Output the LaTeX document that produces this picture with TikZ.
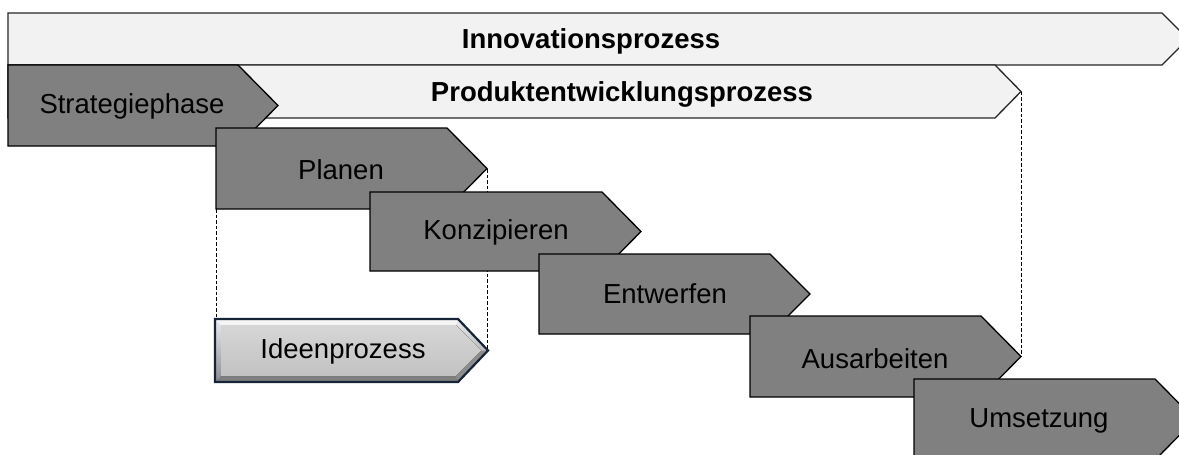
\documentclass[tikz,border=0pt]{standalone}
\usepackage{fontspec}
\setmainfont{Liberation Sans}
\begin{document}
\begin{tikzpicture}[x=1pt,y=-1pt,
  every node/.style={font=\fontsize{27.5}{30}\selectfont, inner sep=0pt},
  phase/.style={draw=black, line width=1.3pt, fill=phasegrey, line join=miter},
  band/.style={draw=black!85, line width=1.3pt, fill=bandgrey, line join=miter},
  guide/.style={draw=black, line width=1pt, dash pattern=on 3.5pt off 2pt},
  title/.style={font=\fontsize{27.5}{30}\selectfont\bfseries}]
\definecolor{phasegrey}{RGB}{128,128,128}
\definecolor{bandgrey}{RGB}{242,242,242}
\definecolor{ideaedge}{RGB}{22,36,56}

% chevron: #1 name, #2 left, #3 top, #4 body right, #5 bottom, #6 tip x, #7 style
\newcommand\chevron[7]{%
  \draw[#7] (#2,#3) -- (#4,#3) -- (#6,{(#3+#5)/2}) -- (#4,#5) -- (#2,#5) -- cycle;
  \coordinate (#1-tl) at (#2,#3);
  \coordinate (#1-bl) at (#2,#5);
  \coordinate (#1-tip) at (#6,{(#3+#5)/2});
}

\useasboundingbox (0,0) rectangle (1179,455);
\clip (0,0) rectangle (1179,455);
\fill[white] (0,0) rectangle (1179,455);

% overall process bands
\chevron{inno}{8}{13}{1162}{65}{1188}{band}
\node[title] (innotext) at (591,41) {Innovationsprozess};
\chevron{pep}{8}{65}{995}{118}{1021}{band}
\node[title] (peptext) at (622,94) {Produktentwicklungsprozess};

\chevron{strat}{8}{65}{238}{146}{278}{phase}
\node (strattext) at (132,106) {Strategiephase};

% guide lines
\coordinate (ideen-tl) at (216,319);
\coordinate (ideen-tip) at (487,350.5);
\coordinate (aus-tip0) at (1021,357);
\coordinate (pl-bl0) at (216,209);
\coordinate (pl-tip0) at (487,169);
\draw[guide] (pl-bl0) -- (ideen-tl);
\draw[guide] (pl-tip0) -- (ideen-tip);
\draw[guide] (pep-tip) -- (aus-tip0);

% development phases
\chevron{plan}{216}{128}{447}{209}{487}{phase}
\node (plantext) at (341,170) {Planen};
\chevron{konz}{370}{192}{602}{271}{641}{phase}
\node (konztext) at (496,232) {Konzipieren};
\chevron{entw}{539}{254}{770}{334}{810}{phase}
\node (entwtext) at (665,294) {Entwerfen};
\chevron{aus}{750}{316}{981}{397}{1021}{phase}
\node (austext) at (875,359) {Ausarbeiten};
\chevron{ums}{914}{379}{1155}{460}{1195}{phase}
\node (umstext) at (1039,421) {Umsetzung};

% bevelled idea process arrow
\fill[top color=white!92!black, bottom color=black!45] (215,319) -- (458,319) -- (488,350.5) -- (458,382) -- (215,382) -- cycle;
\fill[black!50] (221,376) -- (456,376) -- (458,382) -- (215,382) -- cycle;
\fill[black!45] (456,376) -- (481,350.5) -- (488,350.5) -- (458,382) -- cycle;
\fill[white!96!black] (215,319) -- (458,319) -- (456,325) -- (221,325) -- cycle;
\fill[top color=white!84!black, bottom color=white!76!black] (221,325) -- (456,325) -- (481,350.5) -- (456,376) -- (221,376) -- cycle;
\draw[draw=ideaedge, line width=2.2pt, line join=miter] (215,319) -- (458,319) -- (488,350.5) -- (458,382) -- (215,382) -- cycle;
\node (ideentext) at (343,351) {Ideenprozess};
\end{tikzpicture}
\end{document}
